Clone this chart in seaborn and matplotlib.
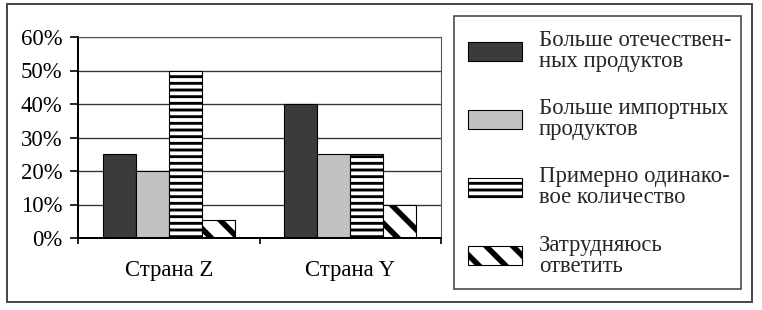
import numpy as np
import pandas as pd
import matplotlib
matplotlib.use("Agg")
import matplotlib.pyplot as plt
from matplotlib.patches import Rectangle
from matplotlib.ticker import FixedLocator, PercentFormatter
import seaborn as sns

# ---- data ----
countries = ["Страна Z", "Страна Y"]
answers = [
    "Больше отечествен-\nных продуктов",
    "Больше импортных\nпродуктов",
    "Примерно одинако-\nвое количество",
    "Затрудняюсь\nответить",
]
values_z = [25, 20, 50, 5.5]
values_y = [40, 25, 25, 10]
y_ticks = [0, 10, 20, 30, 40, 50, 60]

# ---- styles ----
colors = ["#3b3b3b", "#c2c2c2", "#ffffff", "#ffffff"]
hatches = [None, None, "--", "\\"]
hatch_lw = [1.0, 1.0, 2.6, 5.0]
FS = 20.5

df = pd.DataFrame({
    "country": [c for c in countries for _ in answers],
    "answer": answers * len(countries),
    "value": values_z + values_y,
})

sns.set_theme(style="white")
plt.rcParams["font.family"] = ["Liberation Serif", "DejaVu Serif"]
plt.rcParams["hatch.linewidth"] = 2.6
plt.rcParams["hatch.color"] = "black"

DPI = 80
W, H = 762, 310
fig = plt.figure(figsize=(W / DPI, H / DPI), dpi=DPI)
fig.patch.set_facecolor("white")

def fx(px):
    return px / W

def fy(py):
    return 1 - py / H

ax = fig.add_axes([fx(78), fy(238), fx(441) - fx(78), fy(37) - fy(238)])

sns.barplot(
    data=df, x="country", y="value", hue="answer",
    order=countries, hue_order=answers,
    palette=dict(zip(answers, colors)),
    width=0.73, gap=0, edgecolor="black", linewidth=1.0,
    legend=False, ax=ax, errorbar=None, saturation=1,
)

for i, cont in enumerate(ax.containers):
    for p in cont.patches:
        if hatches[i]:
            p.set_hatch(hatches[i])
        if hasattr(p, "set_hatch_linewidth"):
            p.set_hatch_linewidth(hatch_lw[i])

ax.set_ylim(0, 60)
ax.set_xlim(-0.5, 1.5)
ax.yaxis.set_major_locator(FixedLocator(y_ticks))
ax.yaxis.set_major_formatter(PercentFormatter(decimals=0))
ax.grid(axis="y", color="#333333", linewidth=1.2)
ax.set_axisbelow(True)
ax.set_xlabel("")
ax.set_ylabel("")

for s in ["left", "bottom"]:
    ax.spines[s].set_color("black")
    ax.spines[s].set_linewidth(1.8)
for s in ["top", "right"]:
    ax.spines[s].set_color("#555555")
    ax.spines[s].set_linewidth(1.0)

ax.tick_params(axis="y", which="major", direction="out", length=7, width=1.5,
               color="black", labelsize=FS, pad=7, left=True)
ax.set_xticks([-0.5, 0.5, 1.5], minor=True)
ax.tick_params(axis="x", which="minor", direction="out", length=5, width=1.5,
               color="black", bottom=True)
ax.tick_params(axis="x", which="major", length=0, labelsize=FS, pad=20)
for lab in ax.get_xticklabels() + ax.get_yticklabels():
    lab.set_color("black")

# frames
fig.patches.append(Rectangle((fx(7), fy(302)), fx(752) - fx(7), fy(4) - fy(302),
                             transform=fig.transFigure, fill=False,
                             edgecolor="#4a4a4a", linewidth=1.8))
fig.patches.append(Rectangle((fx(454), fy(289)), fx(741) - fx(454), fy(16) - fy(289),
                             transform=fig.transFigure, fill=False,
                             edgecolor="#4a4a4a", linewidth=1.5))

handles = [c.patches[0] for c in ax.containers]
leg = fig.legend(handles, answers, loc="upper left",
                 bbox_to_anchor=(fx(468), fy(30)), borderaxespad=0, borderpad=0,
                 frameon=False, fontsize=FS, handlelength=2.37, handleheight=0.9,
                 handletextpad=0.75, labelspacing=1.15)
for t in leg.get_texts():
    t.set_linespacing(1.0)
for i, h in enumerate(leg.legend_handles):
    if hatches[i]:
        h.set_hatch(hatches[i])
    if hasattr(h, "set_hatch_linewidth"):
        h.set_hatch_linewidth(hatch_lw[i])
    h.set_edgecolor("black")
    h.set_linewidth(1.0)

fig.savefig("out.png", dpi=DPI)
